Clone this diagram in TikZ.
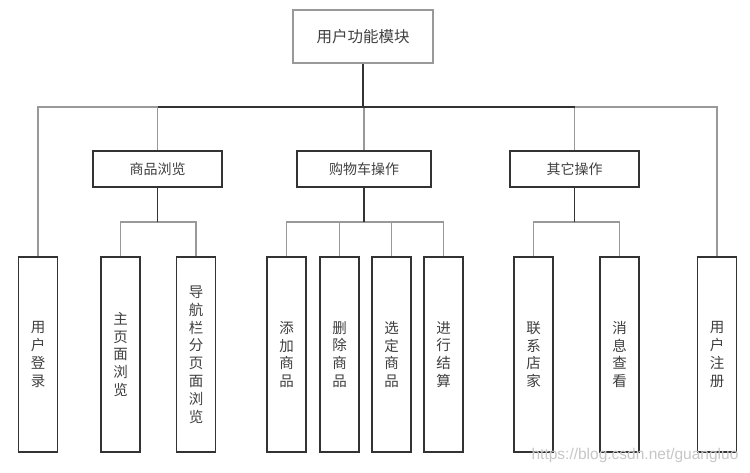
\documentclass[tikz,border=0pt]{standalone}
\usepackage{fontspec}
\newfontfamily\cjk{Noto Sans CJK SC}
\setsansfont{Liberation Sans}
\definecolor{dk}{HTML}{333333}
\definecolor{lg}{HTML}{999999}
\definecolor{tx}{HTML}{404040}
\begin{document}
\begin{tikzpicture}[x=1pt,y=-1pt,
  topbox/.style={draw=lg, line width=1.2pt, fill=white, inner sep=0pt,
    minimum width=140pt, minimum height=53pt, text=tx,
    font=\cjk\fontsize{15.5}{18}\selectfont},
  midbox/.style={draw=dk, line width=1.6pt, fill=white, inner sep=0pt,
    minimum height=36pt, text=tx, font=\cjk\fontsize{14}{17}\selectfont},
  leafbox/.style={draw=dk, line width=1.6pt, fill=white, inner sep=0pt,
    minimum width=39pt, minimum height=195pt, text=tx, align=center,
    font=\cjk\fontsize{14.5}{17.8}\selectfont},
  darkline/.style={draw=dk, line width=1.6pt},
  grayline/.style={draw=lg, line width=1.2pt}]
\useasboundingbox (0,0) rectangle (750,473);
\fill[white] (0,0) rectangle (750,473);

\node[topbox] (top) at (363,36.5) {用户功能模块};
\node[midbox, minimum width=129pt] (browse) at (157.5,169) {商品浏览};
\node[midbox, minimum width=134pt] (cart) at (364,169) {购物车操作};
\node[midbox, minimum width=129pt] (other) at (574.5,169) {其它操作};

\node[leafbox] (login) at (38,354.5) {用\\户\\登\\录};
\node[leafbox] (home) at (120.5,354.5) {主\\页\\面\\浏\\览};
\node[leafbox] (nav) at (196,354.5) {导\\航\\栏\\分\\页\\面\\浏\\览};
\node[leafbox] (add) at (286.5,354.5) {添\\加\\商\\品};
\node[leafbox] (del) at (339.5,354.5) {删\\除\\商\\品};
\node[leafbox] (sel) at (391.5,354.5) {选\\定\\商\\品};
\node[leafbox] (pay) at (443.5,354.5) {进\\行\\结\\算};
\node[leafbox] (shop) at (533.5,354.5) {联\\系\\店\\家};
\node[leafbox] (msg) at (619.5,354.5) {消\\息\\查\\看};
\node[leafbox] (reg) at (717,354.5) {用\\户\\注\\册};

\coordinate (bus) at (0,107);
\coordinate (sb) at (0,222);

% gray connectors
\draw[grayline] (login.north) -- (login.north |- bus) -- (reg.north |- bus) -- (reg.north);
\draw[grayline] (browse.north |- bus) -- (browse.north);
\draw[grayline] (cart.north |- bus) -- (cart.north);
\draw[grayline] (other.north |- bus) -- (other.north);
\draw[grayline] (home.north) -- (home.north |- sb) -- (nav.north |- sb) -- (nav.north);
\draw[grayline] (add.north) -- (add.north |- sb) -- (pay.north |- sb) -- (pay.north);
\draw[grayline] (del.north |- sb) -- (del.north);
\draw[grayline] (sel.north |- sb) -- (sel.north);
\draw[grayline] (shop.north) -- (shop.north |- sb) -- (msg.north |- sb) -- (msg.north);

% dark connectors
\draw[darkline] (top.south) -- (top.south |- bus);
\draw[darkline] (browse.north |- bus) -- (other.north |- bus);
\draw[darkline] (browse.south) -- (browse.south |- sb);
\draw[darkline] (cart.south) -- (cart.south |- sb);
\draw[darkline] (other.south) -- (other.south |- sb);

\node[text=black!22, font=\sffamily\fontsize{15.5}{17}\selectfont] (wm) at (635,455) {https://blog.csdn.net/guangluo};
\end{tikzpicture}
\end{document}
